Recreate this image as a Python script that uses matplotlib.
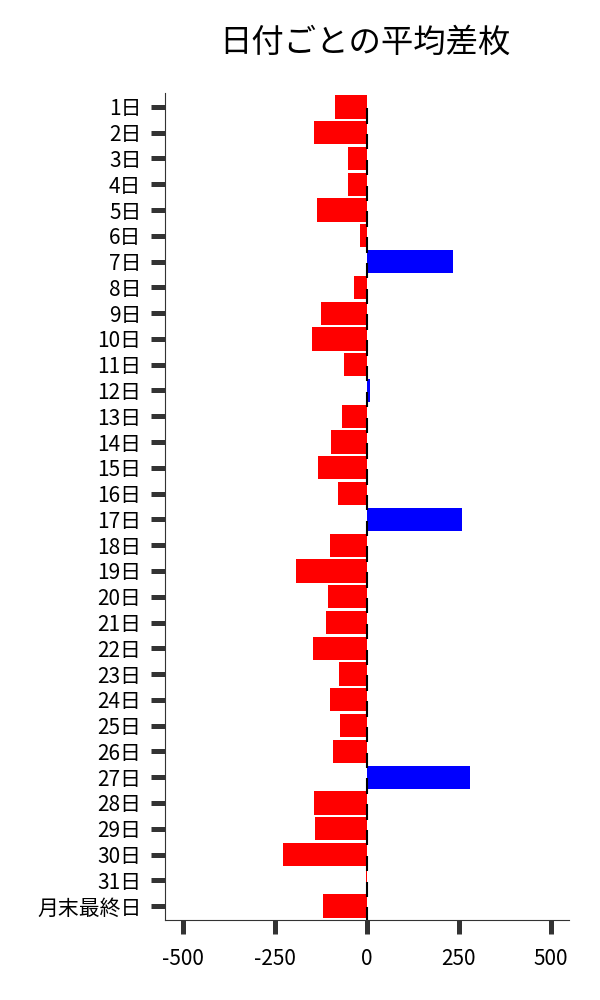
# 日付ごとの平均差枚 (horizontal bar chart)
import numpy as np
import matplotlib
matplotlib.use("Agg")
import matplotlib.pyplot as plt

plt.rcParams['font.family'] = ['Noto Sans CJK JP', 'DejaVu Sans']

days = [f"{d}日" for d in range(1, 32)] + ["月末最終日"]
avg_diff = [-87, -144, -52, -52, -136, -19, 234, -35, -125, -150,
            -63, 8, -68, -98, -133, -79, 258, -100, -193, -106,
            -111, -147, -76, -100, -73, -92, 280, -144, -141, -228,
            -2, -119]
title = "日付ごとの平均差枚"
xticks = [-500, -250, 0, 250, 500]

if __name__ == "__main__":
    vals = np.array(avg_diff)
    y = np.arange(len(days))
    colors = np.where(vals >= 0, "#0000ff", "#ff0000")

    fig = plt.figure(figsize=(6, 10), dpi=100)
    ax = fig.add_axes([0.275, 0.08, 0.673, 0.827])

    ax.barh(y, vals, height=0.9, color=colors)
    # small black marks at the zero line
    ax.barh(y + 0.35, np.zeros(len(y)), height=0.6, left=0,
            edgecolor="black", linewidth=1.5, color="none")

    ax.set_xlim(-549, 549)
    ax.set_ylim(len(days) - 0.46, -0.54)
    ax.set_yticks(y)
    ax.set_yticklabels(days)
    ax.set_xticks(xticks)
    ax.set_xticklabels([str(t) for t in xticks])

    ax.spines["top"].set_visible(False)
    ax.spines["right"].set_visible(False)
    ax.spines["left"].set_color("#333333")
    ax.spines["bottom"].set_color("#333333")
    ax.tick_params(axis="both", length=10, width=3.6, color="#333333",
                   labelsize=15)
    ax.tick_params(axis="y", pad=7)
    ax.tick_params(axis="x", pad=10)

    fig.text(0.608, 0.957, title, fontsize=23.3, ha="center", va="center")

    fig.savefig("out.png", dpi=100)
